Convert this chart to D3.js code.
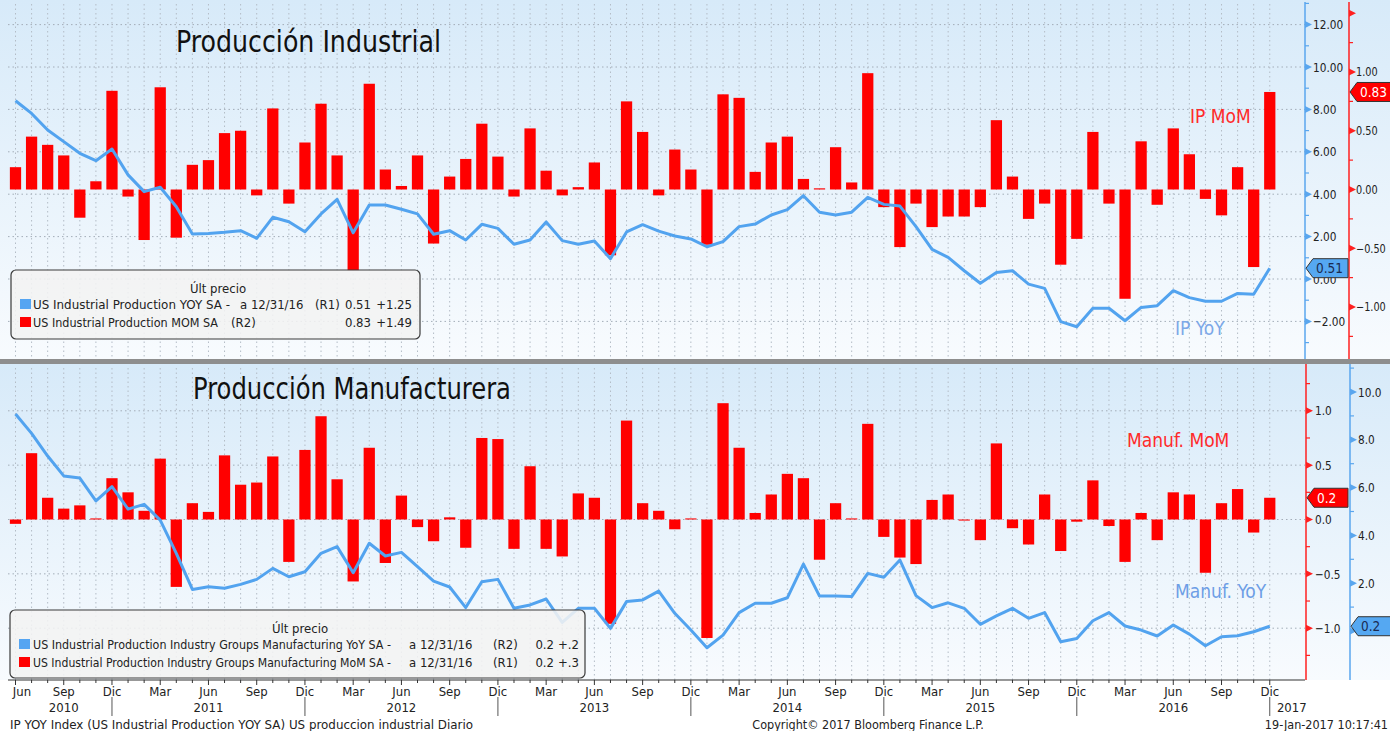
<!DOCTYPE html>
<html>
<head>
<meta charset="utf-8">
<script src="https://cdn.jsdelivr.net/npm/d3@7"></script>
<style>
  body { margin: 0; background: #fff; }
  svg { display: block; }
  text { font-family: "DejaVu Sans Condensed", "DejaVu Sans", sans-serif; }
</style>
</head>
<body>
<svg id="chart" width="1390" height="731"></svg>
<script>
// ---- data (monthly, Jun 2010 .. Dic 2016) ----
const monthNames = ["Ene", "Feb", "Mar", "Abr", "May", "Jun", "Jul", "Ago", "Sep", "Oct", "Nov", "Dic"];
const months = d3.timeMonth.range(new Date(2010, 5, 1), new Date(2017, 0, 1));

const ipMoM = [
  0.19, 0.45, 0.38, 0.29, -0.24, 0.07, 0.84, -0.06, -0.43, 0.87,
  -0.41, 0.21, 0.25, 0.48, 0.50, -0.05, 0.69, -0.12, 0.40, 0.73,
  0.29, -0.69, 0.90, 0.17, 0.03, 0.29, -0.46, 0.11, 0.26, 0.56,
  0.28, -0.06, 0.52, 0.16, -0.05, 0.02, 0.23, -0.56, 0.75, 0.49,
  -0.05, 0.34, 0.17, -0.47, 0.81, 0.78, 0.15, 0.40, 0.45, 0.09,
  0.01, 0.36, 0.06, 0.99, -0.15, -0.49, -0.12, -0.32, -0.23, -0.23,
  -0.15, 0.59, 0.11, -0.25, -0.12, -0.64, -0.42, 0.49, -0.12, -0.93,
  0.41, -0.13, 0.52, 0.30, -0.08, -0.22, 0.19, -0.66, 0.83
];
const ipYoY = [
  8.41, 7.81, 7.03, 6.48, 5.93, 5.58, 6.13, 4.91, 4.12, 4.33,
  3.41, 2.12, 2.15, 2.20, 2.28, 1.92, 2.91, 2.70, 2.23, 3.07,
  3.76, 2.18, 3.49, 3.49, 3.29, 3.07, 2.11, 2.28, 1.84, 2.58,
  2.39, 1.64, 1.84, 2.69, 1.81, 1.64, 1.79, 0.96, 2.22, 2.56,
  2.26, 2.03, 1.89, 1.52, 1.76, 2.47, 2.59, 3.02, 3.27, 3.93,
  3.15, 3.02, 3.15, 3.85, 3.52, 3.44, 2.47, 1.40, 1.02, 0.39,
  -0.20, 0.31, 0.39, -0.24, -0.44, -2.01, -2.25, -1.38, -1.38, -1.97,
  -1.34, -1.26, -0.55, -0.88, -1.05, -1.05, -0.68, -0.72, 0.51
];
const manMoM = [
  -0.04, 0.61, 0.20, 0.10, 0.13, 0.01, 0.38, 0.25, 0.08, 0.56,
  -0.62, 0.15, 0.07, 0.59, 0.32, 0.34, 0.58, -0.39, 0.64, 0.95,
  0.37, -0.57, 0.66, -0.40, 0.22, -0.07, -0.20, 0.02, -0.26, 0.75,
  0.74, -0.27, 0.49, -0.27, -0.34, 0.24, 0.20, -0.96, 0.91, 0.15,
  0.08, -0.09, 0.01, -1.09, 1.07, 0.66, 0.06, 0.23, 0.42, 0.38,
  -0.37, 0.15, 0.01, 0.88, -0.16, -0.35, -0.41, 0.18, 0.23, -0.01,
  -0.19, 0.70, -0.08, -0.23, 0.23, -0.29, -0.02, 0.36, -0.06, -0.39,
  0.06, -0.19, 0.25, 0.23, -0.49, 0.15, 0.28, -0.12, 0.20
];
const manYoY = [
  9.08, 8.27, 7.32, 6.49, 6.40, 5.44, 6.04, 5.10, 5.30, 4.64,
  3.25, 1.74, 1.85, 1.79, 1.95, 2.16, 2.62, 2.27, 2.48, 3.25,
  3.53, 2.44, 3.67, 3.14, 3.29, 2.69, 2.09, 1.84, 0.98, 2.06,
  2.16, 0.95, 1.09, 1.34, 0.36, 0.95, 0.95, 0.11, 1.23, 1.30,
  1.67, 0.74, 0.04, -0.70, -0.17, 0.77, 1.16, 1.16, 1.39, 2.80,
  1.46, 1.46, 1.44, 2.41, 2.25, 2.97, 1.48, 0.98, 1.18, 0.95,
  0.28, 0.63, 0.95, 0.53, 0.77, -0.45, -0.31, 0.43, 0.77, 0.21,
  0.04, -0.21, 0.25, -0.13, -0.62, -0.24, -0.20, -0.03, 0.20
];

const ipLegend = [
  { color: "#55a5f2", parts: ["US Industrial Production YOY SA -", "a 12/31/16", "(R1)"], last: "0.51", chg: "+1.25" },
  { color: "#ff0000", parts: ["US Industrial Production MOM SA", "(R2)"], last: "0.83", chg: "+1.49" }
];
const manLegend = [
  { color: "#55a5f2", parts: ["US Industrial Production Industry Groups Manufacturing YoY SA -", "a 12/31/16", "(R2)"], last: "0.2", chg: "+.2" },
  { color: "#ff0000", parts: ["US Industrial Production Industry Groups Manufacturing MoM SA -", "a 12/31/16", "(R1)"], last: "0.2", chg: "+.3" }
];

// ---- setup ----
const RED = "#ff0000", BLUE = "#52a3ef";
const plotLeft = 8, plotRight = 1305;
const svg = d3.select("#chart");

const defs = svg.append("defs");
const grad = defs.append("linearGradient").attr("id", "bg")
  .attr("x1", 0).attr("y1", 0).attr("x2", 0).attr("y2", 1);
grad.append("stop").attr("offset", "0%").attr("stop-color", "#d7eaf9");
grad.append("stop").attr("offset", "100%").attr("stop-color", "#f8fbfe");

svg.append("rect").attr("width", 1390).attr("height", 731).attr("fill", "#fff");

const x = d3.scaleBand()
  .domain(d3.range(months.length))
  .range([7.46, 1277.8])
  .paddingInner(0.3)
  .paddingOuter(0.15);
const cx = i => x(i) + x.bandwidth() / 2;

// panel scales
const yIpYoY = d3.scaleLinear().domain([-2, 12]).range([321.4, 24.6]);
const yIpMoM = d3.scaleLinear().domain([-1, 1]).range([307, 72]);
const yManMoM = d3.scaleLinear().domain([-1, 1]).range([628.2, 410.8]);
const yManYoY = d3.scaleLinear().domain([0, 10]).range([631, 392]);

function panel(top, bottom, gridScale, gridTicks, barScale, bars, lineScale, line) {
  const g = svg.append("g");
  g.append("rect").attr("x", 0).attr("y", top).attr("width", 1390).attr("height", bottom - top)
    .attr("fill", "url(#bg)");

  // dotted grid
  g.append("g").selectAll("line").data(gridTicks).enter().append("line")
    .attr("x1", plotLeft).attr("x2", plotRight)
    .attr("y1", d => gridScale(d)).attr("y2", d => gridScale(d))
    .attr("stroke", "#a3adb8").attr("stroke-dasharray", "1.5,3");
  g.append("g").selectAll("line").data(months).enter().append("line")
    .attr("x1", (d, i) => cx(i)).attr("x2", (d, i) => cx(i))
    .attr("y1", top + 4).attr("y2", bottom)
    .attr("stroke", "#b3bcc6").attr("stroke-dasharray", "1.5,3");

  g.append("g").selectAll("rect").data(bars).enter().append("rect")
    .attr("x", (d, i) => x(i))
    .attr("width", x.bandwidth())
    .attr("y", d => Math.min(barScale(0), barScale(d)))
    .attr("height", d => Math.abs(barScale(d) - barScale(0)))
    .attr("fill", RED);

  g.append("path").datum(line)
    .attr("fill", "none").attr("stroke", BLUE).attr("stroke-width", 3)
    .attr("stroke-linejoin", "round")
    .attr("d", d3.line().x((d, i) => cx(i)).y(d => lineScale(d)));
  return g;
}

function axis(scale, xPos, color, majors, minors, fmt, top, bottom, extraMarks = [], pad = 9, fs = 13) {
  const g = svg.append("g").attr("transform", `translate(${xPos},0)`);
  g.append("line").attr("y1", top).attr("y2", bottom).attr("stroke", color).attr("stroke-width", 1.5);
  g.append("g").call(d3.axisRight(scale).tickValues(majors).tickFormat(fmt).tickSize(0).tickPadding(pad))
    .call(a => a.select(".domain").remove())
    .selectAll("text").attr("font-size", fs).attr("fill", "#222")
    .style("font-family", '"DejaVu Sans Condensed", "DejaVu Sans", sans-serif')
    .each(function () {
      // Bloomberg digits are narrow: squeeze each label a little
      const w = this.getComputedTextLength();
      d3.select(this).attr("textLength", w * 0.9).attr("lengthAdjust", "spacingAndGlyphs");
    });
  g.append("g").selectAll("path").data(majors.concat(extraMarks)).enter().append("path")
    .attr("d", d => `M0,${scale(d) - 3.5}L7,${scale(d)}L0,${scale(d) + 3.5}Z`).attr("fill", color);
  g.append("g").selectAll("line").data(minors).enter().append("line")
    .attr("x1", 0).attr("x2", 4).attr("y1", d => scale(d)).attr("y2", d => scale(d))
    .attr("stroke", color).attr("stroke-width", 1.2);
}

function tag(x0, x1, y, fill, color, label) {
  svg.append("path")
    .attr("d", `M${x0},${y}L${x0 + 7},${y - 9.5}L${x1},${y - 9.5}L${x1},${y + 9.5}L${x0 + 7},${y + 9.5}Z`)
    .attr("fill", fill).attr("stroke", "#333").attr("stroke-width", 1);
  svg.append("text").attr("x", x0 + 10).attr("y", y + 5).attr("font-size", 13.5)
    .attr("fill", color).text(label);
}

function legend(bx, by, bw, bh, rows, layout) {
  const g = svg.append("g");
  g.append("rect").attr("x", bx).attr("y", by).attr("width", bw).attr("height", bh).attr("rx", 5)
    .attr("fill", "rgba(243,243,243,0.88)").attr("stroke", "#3a3a3a").attr("stroke-width", 1.2);
  g.append("text").attr("x", layout.title).attr("y", by + 23).attr("text-anchor", "middle")
    .attr("font-size", 13).attr("fill", "#222").text("Últ precio");
  rows.forEach((r, k) => {
    const yy = by + 39 + k * 18;
    const pos = layout.rows[k];
    g.append("rect").attr("x", bx + 9).attr("y", yy - 10).attr("width", 11).attr("height", 10).attr("fill", r.color);
    r.parts.forEach((p, j) => {
      const t = g.append("text").attr("x", pos.x[j]).attr("y", yy)
        .attr("font-size", j === 0 ? pos.fs : 13).attr("fill", "#222").text(p);
      if (j === 0) t.attr("textLength", pos.len).attr("lengthAdjust", "spacingAndGlyphs");
    });
    g.append("text").attr("x", layout.last).attr("y", yy).attr("text-anchor", "end")
      .attr("font-size", 13).attr("fill", "#222").text(r.last);
    g.append("text").attr("x", layout.chg).attr("y", yy).attr("text-anchor", "end")
      .attr("font-size", 13).attr("fill", "#222").text(r.chg);
  });
}

// ---- top panel: Producción Industrial ----
panel(0, 359, yIpYoY, d3.range(-2, 13, 2), yIpMoM, ipMoM, yIpYoY, ipYoY);
// ---- bottom panel: Producción Manufacturera ----
panel(364, 680, yManMoM, [-1, -0.5, 0, 0.5, 1], yManMoM, manMoM, yManYoY, manYoY);

svg.append("rect").attr("x", 0).attr("y", 359).attr("width", 1390).attr("height", 5).attr("fill", "#8e8e8e");

// series labels
svg.append("text").attr("x", 1190).attr("y", 123).attr("font-size", 19).attr("fill", "#ff2a2a").text("IP MoM");
svg.append("text").attr("x", 1175).attr("y", 335).attr("font-size", 19).attr("fill", "#7ca8e8").text("IP YoY");
svg.append("text").attr("x", 1127).attr("y", 447).attr("font-size", 19).attr("fill", "#ff2a2a").text("Manuf. MoM");
svg.append("text").attr("x", 1175).attr("y", 598).attr("font-size", 19).attr("fill", "#6d9ee6").text("Manuf. YoY");

// titles
svg.append("text").attr("x", 176).attr("y", 52).attr("font-size", 31).attr("fill", "#111")
  .attr("textLength", 265).attr("lengthAdjust", "spacingAndGlyphs").text("Producción Industrial");
svg.append("text").attr("x", 193).attr("y", 399).attr("font-size", 31).attr("fill", "#111")
  .attr("textLength", 318).attr("lengthAdjust", "spacingAndGlyphs").text("Producción Manufacturera");

// legends
legend(11, 270, 409, 69, ipLegend, {
  title: 218, last: 371, chg: 412,
  rows: [{ x: [33, 240, 315], len: 197, fs: 13 }, { x: [33, 231], len: 185, fs: 13 }]
});
legend(10, 610, 575, 68, manLegend, {
  title: 300, last: 554, chg: 579,
  rows: [{ x: [33, 409, 493], len: 358, fs: 12 }, { x: [33, 409, 493], len: 358, fs: 12 }]
});

// right axes
const f2 = d3.format(".2f"), f1 = d3.format(".1f");
axis(yIpYoY, 1305, "#5aa6ee", d3.range(-2, 13, 2), d3.range(-3, 14, 2), f2, 2, 359, [], 8);
axis(yIpMoM, 1349, "#ff2020", [-1, -0.5, 0, 0.5, 1], [-1.25, -0.75, -0.25, 0.25, 0.75, 1.25], f2, 2, 359, [1.5], 7, 12);
axis(yManMoM, 1306, "#ff2020", [-1, -0.5, 0, 0.5, 1], [-1.25, -0.75, -0.25, 0.25, 0.75, 1.25], f1, 364, 680);
axis(yManYoY, 1350, "#5aa6ee", [2, 4, 6, 8, 10], [1, 3, 5, 7, 9, 11], f1, 364, 680, [0], 8);

// last price tags
tag(1306, 1348, yIpYoY(ipYoY[ipYoY.length - 1]), "#55a8f2", "#1a2a50", "0.51");
tag(1350, 1392, yIpMoM(ipMoM[ipMoM.length - 1]), "#ff0000", "#fff", "0.83");
tag(1307, 1348, yManMoM(manMoM[manMoM.length - 1]), "#ff0000", "#fff", "0.2");
tag(1351, 1392, yManYoY(manYoY[manYoY.length - 1]), "#55a8f2", "#1a2a50", "0.2");

// ---- time axis ----
const xa = svg.append("g");
xa.append("line").attr("x1", plotLeft).attr("x2", plotRight).attr("y1", 680).attr("y2", 680)
  .attr("stroke", "#333");
xa.selectAll("line.tick").data(months).enter().append("line").attr("class", "tick")
  .attr("x1", (d, i) => cx(i)).attr("x2", (d, i) => cx(i))
  .attr("y1", 680).attr("y2", (d) => (d.getMonth() % 3 === 2 ? 685 : 683))
  .attr("stroke", "#333");
const quarterly = months.map((d, i) => ({ d, i })).filter(o => o.d.getMonth() % 3 === 2);
xa.selectAll("text.m").data(quarterly).enter().append("text").attr("class", "m")
  .attr("x", o => Math.max(cx(o.i), 22)).attr("y", 696).attr("text-anchor", "middle")
  .attr("font-size", 13).attr("fill", "#222").text(o => monthNames[o.d.getMonth()]);

const decs = months.map((d, i) => ({ d, i })).filter(o => o.d.getMonth() === 11);
xa.selectAll("line.yr").data(decs).enter().append("line").attr("class", "yr")
  .attr("x1", o => cx(o.i)).attr("x2", o => cx(o.i)).attr("y1", 697).attr("y2", 716)
  .attr("stroke", "#555");
const years = d3.range(2010, 2018);
xa.selectAll("text.y").data(years).enter().append("text").attr("class", "y")
  .attr("x", yr => {
    const idx = months.map((d, i) => ({ d, i })).filter(o => o.d.getFullYear() === yr);
    if (!idx.length) return cx(months.length - 1) + 22;
    const right = cx(idx[idx.length - 1].i);
    const left = yr === 2010 ? cx(0) : cx(idx[0].i - 1);
    return (left + right) / 2;
  })
  .attr("y", 712).attr("text-anchor", "middle").attr("font-size", 13).attr("fill", "#222")
  .text(yr => yr);

// footer
svg.append("text").attr("x", 10).attr("y", 729).attr("font-size", 13).attr("fill", "#222")
  .attr("textLength", 463).attr("lengthAdjust", "spacingAndGlyphs")
  .text("IP YOY Index (US Industrial Production YOY SA) US produccion industrial  Diario");
svg.append("text").attr("x", 868).attr("y", 729).attr("text-anchor", "middle").attr("font-size", 12.5)
  .attr("fill", "#222").text("Copyright© 2017 Bloomberg Finance L.P.");
svg.append("text").attr("x", 1388).attr("y", 729).attr("text-anchor", "end").attr("font-size", 12.5)
  .attr("fill", "#222").text("19-Jan-2017 10:17:41");
</script>
</body>
</html>
